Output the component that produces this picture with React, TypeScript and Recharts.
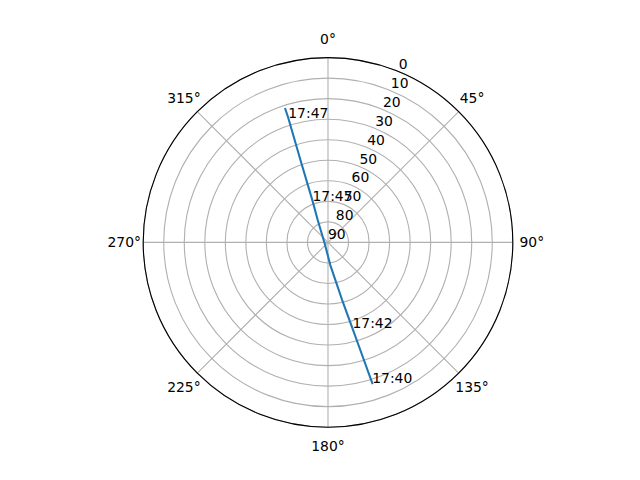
import React from 'react';
import { RadarChart, Radar, PolarGrid, PolarAngleAxis, PolarRadiusAxis } from 'recharts';

// Satellite pass: time label (blank = unlabeled sample), azimuth (deg), altitude (deg)
const times = ['17:40', '', '17:42', '', '', '', '', '', '17:45', '', '17:47', ''];
const azimuths = [162.55, 163.15, 164.1, 166.2, 168.9, 174.2, 251.1, 335.3, 339.6, 341.5, 342.3, 342.25];
const altitudes = [18.1, 32.7, 46.5, 61.1, 71.3, 78.9, 88.3, 78.0, 68.3, 47.7, 26.4, 21.8];

const angleTicks = [0, 45, 90, 135, 180, 225, 270, 315];
const radiusTicks = [0, 10, 20, 30, 40, 50, 60, 70, 80, 90];

const data = times.map((t, i) => ({ time: t, az: azimuths[i], alt: altitudes[i] }));

const FONT = 'DejaVu Sans, sans-serif';
const FS = 13.9;

const PassShape = (props: any) => {
  const pts: any[] = props.points || [];
  const d = pts.map((p, i) => `${i ? 'L' : 'M'}${p.x},${p.y}`).join(' ');
  return (
    <g>
      <path d={d} fill="none" stroke="#1f77b4" strokeWidth={2.08} strokeLinecap="square" strokeLinejoin="round" />
      {pts.map((p, i) =>
        p.payload && p.payload.time ? (
          <text key={i} x={p.x} y={p.y} fontFamily={FONT} fontSize={FS} fill="#000" textAnchor="start">
            {p.payload.time}
          </text>
        ) : null
      )}
    </g>
  );
};

const AngleTick = (props: any) => {
  const { x, y, payload } = props;
  return (
    <text x={x} y={y + 5} textAnchor="middle" fontFamily={FONT} fontSize={FS} fill="#000">
      {`${payload.value}°`}
    </text>
  );
};

const RadiusTick = (props: any) => {
  const { x, y, payload } = props;
  return (
    <text x={x} y={y - 3} textAnchor="start" fontFamily={FONT} fontSize={FS} fill="#000">
      {payload.value}
    </text>
  );
};

export default function App() {
  return (
    <div style={{ position: 'absolute', left: 0, top: 0, width: 640, height: 480, background: '#fff' }}>
      <RadarChart
        width={640}
        height={480}
        data={data}
        cx={328}
        cy={242.4}
        innerRadius={0}
        outerRadius={184.8}
        startAngle={90}
        endAngle={-270}
        margin={{ top: 0, right: 0, bottom: 0, left: 0 }}
      >
        <PolarGrid gridType="circle" stroke="#b0b0b0" strokeWidth={1.1} />
        <PolarGrid gridType="circle" radialLines={false} polarRadius={[184.8]} stroke="#000" strokeWidth={1.1} />
        <PolarAngleAxis
          dataKey="az"
          type="number"
          domain={[0, 360]}
          ticks={angleTicks}
          tick={AngleTick}
          tickLine={false}
          axisLine={false}
          tickSize={19}
        />
        <PolarRadiusAxis
          type="number"
          domain={[0, 90]}
          ticks={radiusTicks}
          tickCount={10}
          reversed
          angle={67.5}
          tick={RadiusTick}
          tickLine={false}
          axisLine={false}
        />
        <Radar dataKey="alt" isAnimationActive={false} shape={PassShape} fill="none" stroke="#1f77b4" dot={false} />
      </RadarChart>
    </div>
  );
}
